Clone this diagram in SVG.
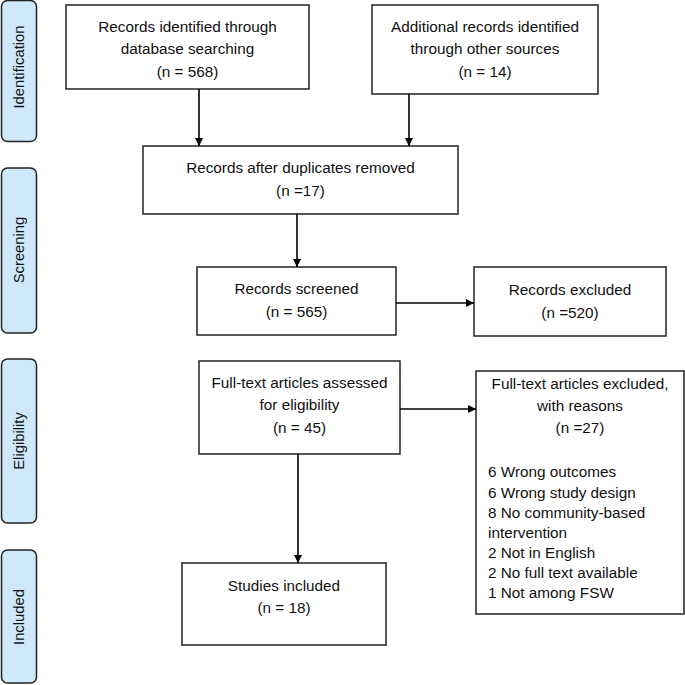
<svg xmlns="http://www.w3.org/2000/svg" width="685" height="685" viewBox="0 0 685 685">
<defs>
<style>
.box{fill:#fff;stroke:#222;stroke-width:1.5}
.lbl{fill:#cfe9fb;stroke:#222;stroke-width:1.5}
text{font-family:"Liberation Sans",Arial,sans-serif;font-size:15.3px;fill:#111}
.s{font-size:14.8px}
.c{text-anchor:middle}
.conn{stroke:#000;stroke-width:1.6;fill:none}
</style>
<marker id="ah" viewBox="0 0 10 10" refX="10" refY="5" markerWidth="8" markerHeight="8" markerUnits="userSpaceOnUse" orient="auto">
<path d="M0,0 L10,5 L0,10 z" fill="#000"/>
</marker>
</defs>
<rect width="685" height="685" fill="#fff"/>
<g id="stage-identification"><rect class="lbl" x="1.5" y="0.5" width="35" height="141" rx="6"/><text class="c s" transform="translate(24,67) rotate(-90)">Identification</text></g>
<g id="stage-screening"><rect class="lbl" x="1.5" y="168" width="35" height="165" rx="6"/><text class="c s" transform="translate(24,250) rotate(-90)">Screening</text></g>
<g id="stage-eligibility"><rect class="lbl" x="1.5" y="359" width="35" height="164" rx="6"/><text class="c s" transform="translate(24,441) rotate(-90)">Eligibility</text></g>
<g id="stage-included"><rect class="lbl" x="1.5" y="550" width="35" height="133" rx="6"/><text class="c s" transform="translate(24,617) rotate(-90)">Included</text></g>

<g id="n-database"><rect class="box" x="66" y="5" width="243" height="84"/>
<text class="c" x="187.5" y="32">Records identified through</text>
<text class="c" x="187.5" y="54">database searching</text>
<text class="c" x="187.5" y="77">(n = 568)</text></g>

<g id="n-other"><rect class="box" x="372" y="5" width="226" height="89"/>
<text class="c" x="485" y="32">Additional records identified</text>
<text class="c" x="485" y="54">through other sources</text>
<text class="c" x="485" y="77">(n = 14)</text></g>

<g id="n-dedup"><rect class="box" x="143" y="146" width="315" height="68"/>
<text class="c" x="300.5" y="173">Records after duplicates removed</text>
<text class="c" x="300.5" y="196">(n =17)</text></g>

<g id="n-screened"><rect class="box" x="197" y="267" width="199" height="68"/>
<text class="c" x="296.5" y="294">Records screened</text>
<text class="c" x="296.5" y="317">(n = 565)</text></g>

<g id="n-excluded"><rect class="box" x="474" y="267" width="192" height="69"/>
<text class="c" x="570" y="295">Records excluded</text>
<text class="c" x="570" y="318">(n =520)</text></g>

<g id="n-assessed"><rect class="box" x="199" y="361" width="201" height="93"/>
<text class="c" x="299.5" y="388">Full-text articles assessed</text>
<text class="c" x="299.5" y="410">for eligibility</text>
<text class="c" x="299.5" y="433">(n = 45)</text></g>

<g id="n-ftexcluded"><rect class="box" x="476" y="371" width="208" height="243"/>
<text class="c" x="580" y="389">Full-text articles excluded,</text>
<text class="c" x="580" y="411">with reasons</text>
<text class="c" x="580" y="433">(n =27)</text>
<text x="488" y="477">6 Wrong outcomes</text>
<text x="488" y="498">6 Wrong study design</text>
<text x="488" y="518">8 No community-based</text>
<text x="488" y="538">intervention</text>
<text x="488" y="558">2 Not in English</text>
<text x="488" y="578">2 No full text available</text>
<text x="488" y="598">1 Not among FSW</text></g>

<g id="n-included"><rect class="box" x="182" y="563" width="204" height="82"/>
<text class="c" x="284" y="591">Studies included</text>
<text class="c" x="284" y="613">(n = 18)</text></g>

<g id="connectors">
<line class="conn" x1="199" y1="89" x2="199" y2="146" marker-end="url(#ah)"/>
<line class="conn" x1="409" y1="94" x2="409" y2="146" marker-end="url(#ah)"/>
<line class="conn" x1="297" y1="214" x2="297" y2="267" marker-end="url(#ah)"/>
<line class="conn" x1="396" y1="303" x2="474" y2="303" marker-end="url(#ah)"/>
<line class="conn" x1="400" y1="409" x2="476" y2="409" marker-end="url(#ah)"/>
<line class="conn" x1="298" y1="454" x2="298" y2="563" marker-end="url(#ah)"/>
</g>
</svg>
